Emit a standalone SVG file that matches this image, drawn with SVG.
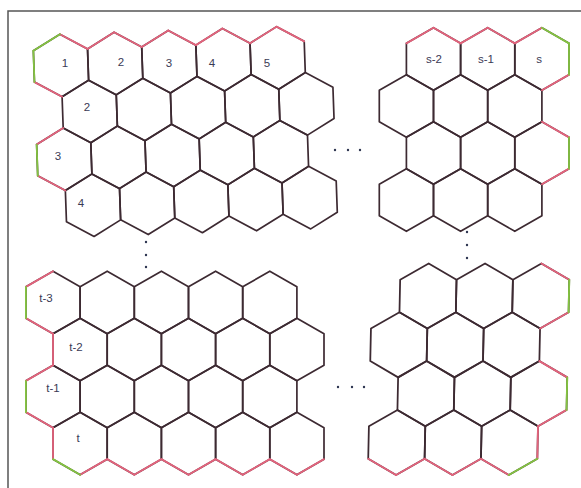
<svg xmlns="http://www.w3.org/2000/svg" xmlns:xlink="http://www.w3.org/1999/xlink" width="581" height="488" viewBox="0 0 581 488">
<style>
.d{fill:none;stroke:#3d2a32;stroke-width:1.7;stroke-linejoin:round}
.p{fill:none;stroke:#e3637c;stroke-width:1.8;stroke-linecap:round}
.g{fill:none;stroke:#84c441;stroke-width:1.8;stroke-linecap:round}
.l{font-family:"Liberation Sans",Arial,sans-serif;font-size:11.5px;fill:#3a3a55;text-anchor:middle}
.dot{fill:#2e3550}
</style>
<defs>
<polygon id="hx" points="0,-31.3 27.1,-15.65 27.1,15.65 0,31.3 -27.1,15.65 -27.1,-15.65"/>
<path id="eUL" d="M-27.1,-15.65 L0,-31.3"/>
<path id="eUR" d="M0,-31.3 L27.1,-15.65"/>
<path id="eR" d="M27.1,-15.65 V15.65"/>
<path id="eLR" d="M27.1,15.65 L0,31.3"/>
<path id="eLL" d="M0,31.3 L-27.1,15.65"/>
<path id="eL" d="M-27.1,15.65 V-15.65"/>
</defs>
<rect width="581" height="488" fill="#fff"/>
<path id="frame" d="M8,488 V11 H581" fill="none" stroke="#555" stroke-width="1.5"/>

<g id="block-top-left" transform="rotate(-2 61 65.5)">
<g class="d">
<use id="tl-0-0" href="#hx" x="61" y="65.5"/><use id="tl-0-1" href="#hx" x="115.2" y="65.5"/><use id="tl-0-2" href="#hx" x="169.4" y="65.5"/><use id="tl-0-3" href="#hx" x="223.6" y="65.5"/><use id="tl-0-4" href="#hx" x="277.8" y="65.5"/>
<use id="tl-1-0" href="#hx" x="88.1" y="112.4"/><use id="tl-1-1" href="#hx" x="142.3" y="112.4"/><use id="tl-1-2" href="#hx" x="196.5" y="112.4"/><use id="tl-1-3" href="#hx" x="250.7" y="112.4"/><use id="tl-1-4" href="#hx" x="304.9" y="112.4"/>
<use id="tl-2-0" href="#hx" x="61" y="159.3"/><use id="tl-2-1" href="#hx" x="115.2" y="159.3"/><use id="tl-2-2" href="#hx" x="169.4" y="159.3"/><use id="tl-2-3" href="#hx" x="223.6" y="159.3"/><use id="tl-2-4" href="#hx" x="277.8" y="159.3"/>
<use id="tl-3-0" href="#hx" x="88.1" y="206.2"/><use id="tl-3-1" href="#hx" x="142.3" y="206.2"/><use id="tl-3-2" href="#hx" x="196.5" y="206.2"/><use id="tl-3-3" href="#hx" x="250.7" y="206.2"/><use id="tl-3-4" href="#hx" x="304.9" y="206.2"/>
</g>
<g class="p">
<use href="#eUR" x="61" y="65.5"/><use href="#eLL" x="61" y="65.5"/>
<use href="#eUL" x="115.2" y="65.5"/><use href="#eUR" x="115.2" y="65.5"/>
<use href="#eUL" x="169.4" y="65.5"/><use href="#eUR" x="169.4" y="65.5"/>
<use href="#eUL" x="223.6" y="65.5"/><use href="#eUR" x="223.6" y="65.5"/>
<use href="#eUL" x="277.8" y="65.5"/><use href="#eUR" x="277.8" y="65.5"/>
<use href="#eUL" x="61" y="159.3"/><use href="#eLL" x="61" y="159.3"/>
</g>
<g class="g">
<use href="#eUL" x="61" y="65.5"/><use href="#eL" x="61" y="65.5"/>
<use href="#eL" x="61" y="159.3"/>
</g>
</g>

<g id="block-top-right">
<g class="d">
<use id="tr-0-0" href="#hx" x="433.5" y="59"/><use id="tr-0-1" href="#hx" x="487.7" y="59"/><use id="tr-0-2" href="#hx" x="541.9" y="59"/>
<use id="tr-1-0" href="#hx" x="406.4" y="106"/><use id="tr-1-1" href="#hx" x="460.6" y="106"/><use id="tr-1-2" href="#hx" x="514.8" y="106"/>
<use id="tr-2-0" href="#hx" x="433.5" y="153"/><use id="tr-2-1" href="#hx" x="487.7" y="153"/><use id="tr-2-2" href="#hx" x="541.9" y="153"/>
<use id="tr-3-0" href="#hx" x="406.4" y="200"/><use id="tr-3-1" href="#hx" x="460.6" y="200"/><use id="tr-3-2" href="#hx" x="514.8" y="200"/>
</g>
<g class="p">
<use href="#eUL" x="433.5" y="59"/><use href="#eUR" x="433.5" y="59"/>
<use href="#eUL" x="487.7" y="59"/><use href="#eUR" x="487.7" y="59"/>
<use href="#eUL" x="541.9" y="59"/><use href="#eLR" x="541.9" y="59"/>
<use href="#eUR" x="541.9" y="153"/><use href="#eLR" x="541.9" y="153"/>
</g>
<g class="g">
<use href="#eUR" x="541.9" y="59"/><use href="#eR" x="541.9" y="59"/>
<use href="#eR" x="541.9" y="153"/>
</g>
</g>

<g id="block-bottom-left">
<g class="d">
<use id="bl-0-0" href="#hx" x="53" y="302.5"/><use id="bl-0-1" href="#hx" x="107.2" y="302.5"/><use id="bl-0-2" href="#hx" x="161.4" y="302.5"/><use id="bl-0-3" href="#hx" x="215.6" y="302.5"/><use id="bl-0-4" href="#hx" x="269.8" y="302.5"/>
<use id="bl-1-0" href="#hx" x="80.1" y="349.5"/><use id="bl-1-1" href="#hx" x="134.3" y="349.5"/><use id="bl-1-2" href="#hx" x="188.5" y="349.5"/><use id="bl-1-3" href="#hx" x="242.7" y="349.5"/><use id="bl-1-4" href="#hx" x="296.9" y="349.5"/>
<use id="bl-2-0" href="#hx" x="53" y="396.5"/><use id="bl-2-1" href="#hx" x="107.2" y="396.5"/><use id="bl-2-2" href="#hx" x="161.4" y="396.5"/><use id="bl-2-3" href="#hx" x="215.6" y="396.5"/><use id="bl-2-4" href="#hx" x="269.8" y="396.5"/>
<use id="bl-3-0" href="#hx" x="80.1" y="443.5"/><use id="bl-3-1" href="#hx" x="134.3" y="443.5"/><use id="bl-3-2" href="#hx" x="188.5" y="443.5"/><use id="bl-3-3" href="#hx" x="242.7" y="443.5"/><use id="bl-3-4" href="#hx" x="296.9" y="443.5"/>
</g>
<g class="p">
<use href="#eUL" x="53" y="302.5"/><use href="#eLL" x="53" y="302.5"/>
<use href="#eL" x="80.1" y="349.5"/>
<use href="#eUL" x="53" y="396.5"/><use href="#eLL" x="53" y="396.5"/>
<use href="#eL" x="80.1" y="443.5"/><use href="#eLR" x="80.1" y="443.5"/>
<use href="#eLL" x="134.3" y="443.5"/><use href="#eLR" x="134.3" y="443.5"/>
<use href="#eLL" x="188.5" y="443.5"/><use href="#eLR" x="188.5" y="443.5"/>
<use href="#eLL" x="242.7" y="443.5"/><use href="#eLR" x="242.7" y="443.5"/>
<use href="#eLL" x="296.9" y="443.5"/><use href="#eLR" x="296.9" y="443.5"/>
</g>
<g class="g">
<use href="#eL" x="53" y="302.5"/>
<use href="#eL" x="53" y="396.5"/>
<use href="#eLL" x="80.1" y="443.5"/>
</g>
</g>

<g id="block-bottom-right" transform="translate(428 296) skewX(-1.2) scale(1.04)">
<g class="d">
<use id="br-0-0" href="#hx" x="0" y="0"/><use id="br-0-1" href="#hx" x="54.2" y="0"/><use id="br-0-2" href="#hx" x="108.4" y="0"/>
<use id="br-1-0" href="#hx" x="-27.1" y="46.95"/><use id="br-1-1" href="#hx" x="27.1" y="46.95"/><use id="br-1-2" href="#hx" x="81.3" y="46.95"/>
<use id="br-2-0" href="#hx" x="0" y="93.9"/><use id="br-2-1" href="#hx" x="54.2" y="93.9"/><use id="br-2-2" href="#hx" x="108.4" y="93.9"/>
<use id="br-3-0" href="#hx" x="-27.1" y="140.85"/><use id="br-3-1" href="#hx" x="27.1" y="140.85"/><use id="br-3-2" href="#hx" x="81.3" y="140.85"/>
</g>
<g class="p">
<use href="#eUR" x="108.4" y="0"/><use href="#eLR" x="108.4" y="0"/>
<use href="#eUR" x="108.4" y="93.9"/><use href="#eLR" x="108.4" y="93.9"/>
<use href="#eLL" x="-27.1" y="140.85"/><use href="#eLR" x="-27.1" y="140.85"/>
<use href="#eLL" x="27.1" y="140.85"/><use href="#eLR" x="27.1" y="140.85"/>
<use href="#eLL" x="81.3" y="140.85"/><use href="#eR" x="81.3" y="140.85"/>
</g>
<g class="g">
<use href="#eR" x="108.4" y="0"/>
<use href="#eR" x="108.4" y="93.9"/>
<use href="#eLR" x="81.3" y="140.85"/>
</g>
</g>

<g id="labels" class="l">
<text x="65" y="67">1</text><text x="121" y="66">2</text><text x="169" y="67">3</text><text x="212" y="67">4</text><text x="267" y="67">5</text>
<text x="87" y="111">2</text><text x="58" y="160">3</text><text x="81" y="207">4</text>
<text x="434" y="63">s-2</text><text x="486" y="63">s-1</text><text x="539" y="63">s</text>
<text x="46" y="302">t-3</text><text x="76" y="351">t-2</text><text x="53" y="392">t-1</text><text x="78" y="442">t</text>
</g>

<g id="ellipses" class="dot">
<circle cx="335" cy="150" r="1.2"/><circle cx="348" cy="150" r="1.2"/><circle cx="360" cy="150" r="1.2"/>
<circle cx="338" cy="387" r="1.2"/><circle cx="352" cy="387" r="1.2"/><circle cx="364" cy="387" r="1.2"/>
<circle cx="146" cy="242" r="1.2"/><circle cx="146" cy="255" r="1.2"/><circle cx="146" cy="267" r="1.2"/>
<circle cx="467" cy="232" r="1.2"/><circle cx="467" cy="245" r="1.2"/><circle cx="467" cy="258" r="1.2"/>
</g>
</svg>
